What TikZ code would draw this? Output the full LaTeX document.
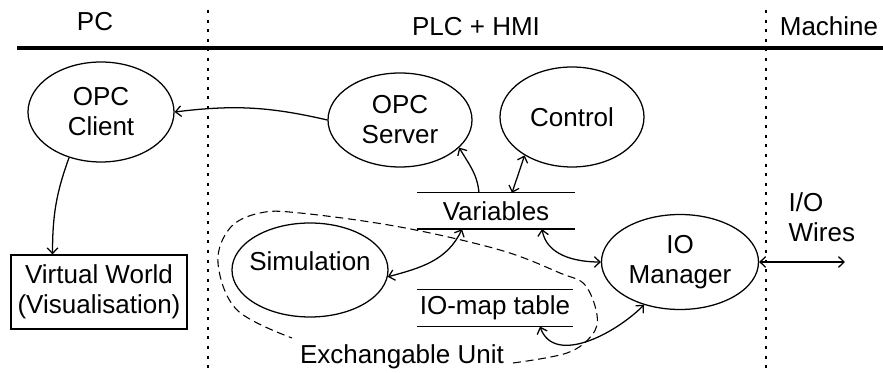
\documentclass[tikz,border=0pt]{standalone}
\usepackage{fontspec}
\setmainfont{Liberation Sans}
\usetikzlibrary{shapes.geometric,arrows.meta}

\begin{document}
\begin{tikzpicture} [
  x=0.75pt, y=0.75pt,
  line width=0.95pt,
  >={Straight Barb[length=4.2pt,width=8pt]},
  every node/.style={font=\fontsize{19.5}{22.5}\selectfont, inner sep=0pt, align=center},
  proc/.style={ellipse, draw, inner xsep=-8pt},
  store/.style={rectangle},
  world/.style={rectangle, draw, minimum width=132pt, minimum height=55.5pt},
  border/.style={dash pattern=on 2.2pt off 5pt},
  unit/.style={dash pattern=on 6pt off 3.5pt, line width=0.8pt}
  ]
  \useasboundingbox (0,0) rectangle (883,-373);

  % header
  \node (pc) at (95,-22) {PC};
  \node (plchmi) at (476,-27) {PLC + HMI};
  \node (machine) at (829,-26) {Machine};
  \draw [line width=2.3pt] (17,-48) -- (883,-48);
  \draw [border] (208,-10) -- (208,-373);
  \draw [border] (766,-10) -- (766,-373);

  % nodes
  \node (opcclient) [proc, minimum width=109.5pt, minimum height=75pt] at (101,-112) {OPC\\Client};
  \node (opcserver) [proc, minimum width=108pt, minimum height=70.5pt] at (400,-120) {OPC\\Server};
  \node (control) [proc, minimum width=108pt, minimum height=75pt] at (572,-117) {Control};
  \node (sim) [proc, minimum width=117pt, minimum height=70.5pt, text depth=13pt] at (310,-270) {Simulation};
  \node (iomgr) [proc, minimum width=117.75pt, minimum height=71.25pt] at (680,-262) {IO\\Manager};
  \node (vworld) [world] at (99,-292) {Virtual World\\(Visualisation)};
  \node (vars) [store, minimum width=117pt, minimum height=26.25pt] at (496,-211) {Variables};
  \node (iomap) [store, minimum width=116.25pt, minimum height=27pt] at (495,-308) {IO-map table};
  \node (wires) [anchor=west, align=left] at (788,-217) {I/O\\Wires};
  \node (exunit) at (402,-357) {Exchangable Unit};
  \coordinate (wireend) at (845,-262);

  \foreach \n in {vars,iomap} {
    \draw (\n.north west) -- (\n.north east) (\n.south west) -- (\n.south east);
  }

  % connectors
  \draw [->] (opcserver.west) to[bend right=10] (opcclient.east);
  \draw [->] (opcclient.235) to[out=250,in=90] (vworld.141);
  \draw [->] ([xshift=-12.75pt]vars.north) to[out=95,in=-60] (opcserver.-25);
  \draw [<->] ([xshift=12pt]vars.north) -- (control.219);
  \draw [<->] ([xshift=-25.5pt]vars.south) to[out=-115,in=15] (sim.-5);
  \draw [<->] ([xshift=34.5pt]vars.south) to[out=-80,in=180] (iomgr.west);
  \draw [<->] ([xshift=33.75pt]iomap.south) to[out=-70,in=225] (iomgr.230);
  \draw [<->] (iomgr.east) -- (wireend);

  % exchangable unit
  \draw [unit] plot [smooth, tension=0.6] coordinates {
    (513,-363) (567,-353) (592,-335) (597,-315) (585,-285) (560,-273)
    (500,-250) (400,-227) (300,-213) (260,-213) (230,-228) (218,-263)
    (237,-310) (292,-338)};
\end{tikzpicture}
\end{document}
